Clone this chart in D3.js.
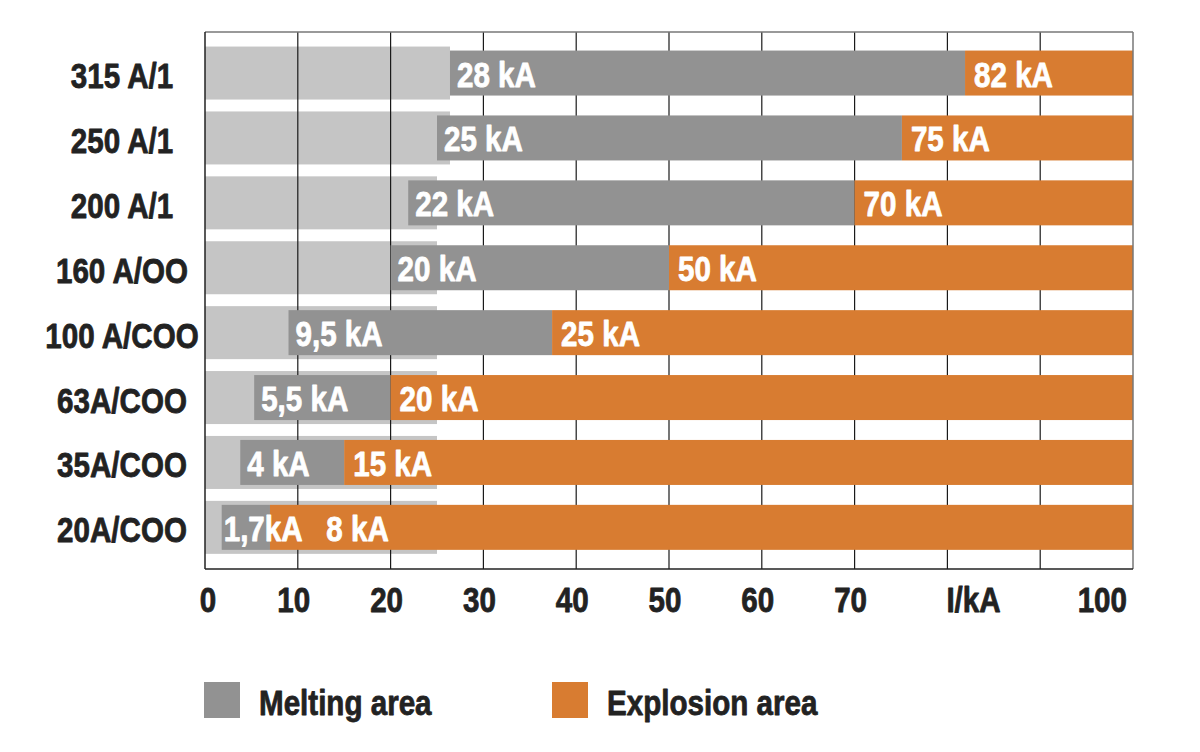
<!DOCTYPE html>
<html>
<head>
<meta charset="utf-8">
<script src="https://cdn.jsdelivr.net/npm/d3@7"></script>
<style>
    html, body { margin: 0; padding: 0; background: #fff; }
    text { font-family: "Liberation Sans", Arial, sans-serif; font-weight: bold; stroke-width: 0.8; stroke-linejoin: round; }
</style>
</head>
<body>
<svg id="svg" width="1200" height="752"></svg>
<script>
    // rows, top to bottom
    var categories = ["315 A/1", "250 A/1", "200 A/1", "160 A/OO", "100 A/COO", "63A/COO", "35A/COO", "20A/COO"];
    // where each band starts on the kA axis, as drawn
    var meltStart = [26.4, 25, 21.9, 20, 9, 5.3, 3.8, 1.8];
    var explStart = [81.9, 75.1, 70, 50, 37.4, 20, 15, 7];
    var backEnd = [26.4, 26.4, 25, 25, 25, 25, 25, 25];
    var meltLabels = ["28 kA", "25 kA", "22 kA", "20 kA", "9,5 kA", "5,5 kA", "4 kA", "1,7kA"];
    var explLabels = ["82 kA", "75 kA", "70 kA", "50 kA", "25 kA", "20 kA", "15 kA", "8 kA"];
    var explLabelAt = [81.9, 75.1, 70, 50, 37.4, 20, 15, 12.1];
    var xTicks = [0, 10, 20, 30, 40, 50, 60, 70, 80, 90, 100];
    var xTickLabels = ["0", "10", "20", "30", "40", "50", "60", "70", "I/kA", "", "100"];
    var legendItems = ["Melting area", "Explosion area"];

    var colBack = "#c5c5c5", colMelt = "#929292", colExpl = "#d87c31";

    var svg = d3.select("#svg");
    var plotLeft = 205, plotRight = 1133, plotTop = 32, plotBottom = 569;

    var x = d3.scaleLinear().domain([0, 100]).range([plotLeft, plotRight]);
    var y = d3.scaleBand().domain(categories).range([40.6, 559.8]).padding(0);
    var step = y.bandwidth();

    // squeeze text into a condensed look
    function narrow(sel) {
        sel.each(function () {
            var len = this.getComputedTextLength();
            if (len > 0) {
                d3.select(this).attr("textLength", len * 0.845).attr("lengthAdjust", "spacingAndGlyphs");
            }
        });
    }

    var rows = categories.map(function (c, i) {
        return { cat: c, m: meltStart[i], e: explStart[i], b: backEnd[i],
                 ml: meltLabels[i], el: explLabels[i], ea: explLabelAt[i] };
    });

    // light backing bars
    svg.append("g").selectAll("rect").data(rows).enter().append("rect")
        .attr("x", x(0))
        .attr("y", function (d) { return y(d.cat) + step / 2 - 26.5; })
        .attr("width", function (d) { return x(d.b) - x(0); })
        .attr("height", 53)
        .attr("fill", colBack);

    // grid
    svg.append("g").selectAll("line").data(xTicks.slice(1, -1)).enter().append("line")
        .attr("x1", function (d) { return x(d); })
        .attr("x2", function (d) { return x(d); })
        .attr("y1", plotTop).attr("y2", plotBottom)
        .attr("stroke", "#1a1a1a").attr("stroke-width", 1.2);

    // melting + explosion bars
    svg.append("g").selectAll("rect").data(rows).enter().append("rect")
        .attr("x", function (d) { return x(d.m); })
        .attr("y", function (d) { return y(d.cat) + step / 2 - 22.5; })
        .attr("width", function (d) { return x(d.e) - x(d.m); })
        .attr("height", 45)
        .attr("fill", colMelt);

    svg.append("g").selectAll("rect").data(rows).enter().append("rect")
        .attr("x", function (d) { return x(d.e); })
        .attr("y", function (d) { return y(d.cat) + step / 2 - 22.5; })
        .attr("width", function (d) { return x(100) - x(d.e); })
        .attr("height", 45)
        .attr("fill", colExpl);

    // frame
    svg.append("line").attr("x1", plotLeft).attr("x2", plotRight).attr("y1", plotTop).attr("y2", plotTop)
        .attr("stroke", "#777").attr("stroke-width", 1.5);
    svg.append("line").attr("x1", plotRight).attr("x2", plotRight).attr("y1", plotTop).attr("y2", plotBottom)
        .attr("stroke", "#777").attr("stroke-width", 1.5);
    svg.append("line").attr("x1", plotLeft).attr("x2", plotLeft).attr("y1", plotTop).attr("y2", plotBottom)
        .attr("stroke", "#222").attr("stroke-width", 1.5);
    svg.append("line").attr("x1", plotLeft).attr("x2", plotRight).attr("y1", plotBottom).attr("y2", plotBottom)
        .attr("stroke", "#222").attr("stroke-width", 1.5);

    // value labels
    svg.append("g").selectAll("text").data(rows).enter().append("text")
        .attr("x", function (d, i) { return x(d.m) + (i === 7 ? 2 : 7); })
        .attr("y", function (d) { return y(d.cat) + step / 2 + 13.5; })
        .attr("fill", "#fff").attr("stroke", "#fff").attr("font-size", 35)
        .text(function (d) { return d.ml; })
        .call(narrow);

    svg.append("g").selectAll("text").data(rows).enter().append("text")
        .attr("x", function (d) { return x(d.ea) + 9; })
        .attr("y", function (d) { return y(d.cat) + step / 2 + 13.5; })
        .attr("fill", "#fff").attr("stroke", "#fff").attr("font-size", 35)
        .text(function (d) { return d.el; })
        .call(narrow);

    // category labels
    svg.append("g").selectAll("text").data(categories).enter().append("text")
        .attr("x", 122)
        .attr("y", function (d) { return y(d) + step / 2 + 15; })
        .attr("text-anchor", "middle")
        .attr("fill", "#222").attr("stroke", "#222").attr("font-size", 35)
        .text(function (d) { return d; })
        .call(narrow);

    // x tick labels
    svg.append("g").selectAll("text").data(xTicks).enter().append("text")
        .attr("x", function (d, i) {
            if (xTickLabels[i] === "I/kA") return x(d) - 1;
            if (d === 100) return x(d) - 6;
            return x(d) - (d === 0 ? -3 : 4);
        })
        .attr("y", 612)
        .attr("text-anchor", function (d, i) {
            if (xTickLabels[i] === "I/kA") return "start";
            if (d === 100) return "end";
            return "middle";
        })
        .attr("fill", "#222").attr("stroke", "#222").attr("font-size", 35)
        .text(function (d, i) { return xTickLabels[i]; })
        .call(narrow);

    // legend
    var legend = svg.append("g").selectAll("g").data(legendItems).enter().append("g")
        .attr("transform", function (d, i) { return "translate(" + (i === 0 ? 204 : 552) + ",682)"; });
    legend.append("rect").attr("width", 36).attr("height", 36)
        .attr("fill", function (d, i) { return i === 0 ? colMelt : colExpl; });
    legend.append("text").attr("x", 55).attr("y", 33)
        .attr("fill", "#222").attr("stroke", "#222").attr("font-size", 35)
        .text(function (d) { return d; })
        .call(narrow);
</script>
</body>
</html>
